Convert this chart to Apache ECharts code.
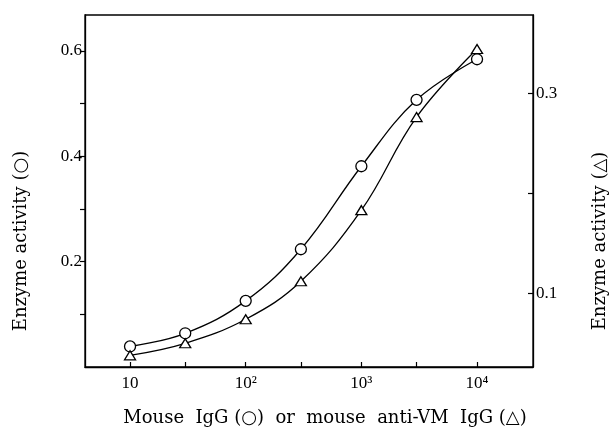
<!DOCTYPE html>
<html>
<head>
<meta charset="utf-8">
<script src="https://cdn.jsdelivr.net/npm/echarts@6/dist/echarts.min.js"></script>
<style>html,body{margin:0;padding:0;background:#fff}#c{width:611px;height:432px}</style>
</head>
<body>
<div id="c"></div>
<script>
// Concentrations (x, log scale)
const doses = [10, 30, 100, 300, 1000, 3000, 10000];
// Enzyme activity, mouse IgG (circles, left axis)
const igg = [0.039, 0.064, 0.1255, 0.2235, 0.381, 0.507, 0.584];
// Enzyme activity, mouse anti-VM IgG (triangles, right axis)
const antiVM = [0.038, 0.050, 0.074, 0.112, 0.183, 0.276, 0.344];
// Tick values and labels
const xTickValues = [10, 30, 100, 300, 1000, 3000, 10000];
const xLabelValues = [10, 100, 1000, 10000];
const xLabelTexts = ['10', '10²', '10³', '10⁴'];
const leftTickValues = [0.1, 0.2, 0.3, 0.4, 0.5, 0.6];
const leftLabelValues = [0.2, 0.4, 0.6];
const rightTickValues = [0.1, 0.2, 0.3];
const rightLabelValues = [0.1, 0.3];

const serif = 'Liberation Serif';
const titleFont = 'DejaVu Serif';
const chart = echarts.init(document.getElementById('c'), null, {renderer: 'canvas'});
const lineBlack = {show: true, lineStyle: {color: '#000', width: 1.3}};
chart.setOption({
  animation: false,
  backgroundColor: '#fff',
  grid: {left: 85, right: 78, top: 15, bottom: 65, show: true, borderColor: '#000', borderWidth: 1.3,
    containLabel: false, outerBoundsMode: 'none'},
  xAxis: {
    type: 'log', logBase: 10, min: 4.08, max: 30470,
    axisLine: lineBlack, splitLine: {show: false},
    axisTick: {show: true, inside: true, length: 5, customValues: xTickValues, lineStyle: {color: '#000', width: 1.2}},
    minorTick: {show: false},
    axisLabel: {color: '#000', fontFamily: serif, fontSize: 17, margin: 8, customValues: xLabelValues,
      formatter: v => xLabelTexts[xLabelValues.indexOf(Math.round(v))] || ''},
    name: 'Mouse  IgG (○)  or  mouse  anti-VM  IgG (△)',
    nameLocation: 'middle', nameGap: 42,
    nameTextStyle: {color: '#000', fontFamily: titleFont, fontSize: 18, padding: [0, 0, 0, 32]}
  },
  yAxis: [{
    type: 'value', min: 0, max: 0.668, position: 'left',
    axisLine: lineBlack, splitLine: {show: false},
    axisTick: {show: true, length: 5, customValues: leftTickValues, lineStyle: {color: '#000', width: 1.2}},
    axisLabel: {color: '#000', fontFamily: serif, fontSize: 17, margin: 3, customValues: leftLabelValues,
      formatter: v => v.toFixed(1)},
    name: 'Enzyme activity (○)', nameLocation: 'middle', nameGap: 55, nameRotate: 90,
    nameTextStyle: {color: '#000', fontFamily: titleFont, fontSize: 18, padding: [0, 100, 0, 0]}
  }, {
    type: 'value', min: 0.0263, max: 0.378, position: 'right',
    axisLine: lineBlack, splitLine: {show: false},
    axisTick: {show: true, inside: true, length: 5, customValues: rightTickValues, lineStyle: {color: '#000', width: 1.2}},
    axisLabel: {color: '#000', fontFamily: serif, fontSize: 17, margin: 3, customValues: rightLabelValues,
      formatter: v => v.toFixed(1)},
    name: 'Enzyme activity (△)', nameLocation: 'middle', nameGap: 58, nameRotate: 90,
    nameTextStyle: {color: '#000', fontFamily: titleFont, fontSize: 18, padding: [0, 100, 0, 0]}
  }],
  series: [{
    type: 'line', yAxisIndex: 0, smooth: 0.4,
    data: doses.map((d, i) => [d, igg[i]]),
    symbol: 'circle', symbolSize: 11,
    lineStyle: {color: '#000', width: 1.3},
    itemStyle: {color: '#fff', borderColor: '#000', borderWidth: 1.3},
    z: 3
  }, {
    type: 'line', yAxisIndex: 1, smooth: 0.4,
    data: doses.map((d, i) => [d, antiVM[i]]),
    symbol: 'triangle', symbolSize: [11, 9],
    lineStyle: {color: '#000', width: 1.3},
    itemStyle: {color: '#fff', borderColor: '#000', borderWidth: 1.3},
    z: 3
  }]
});
</script>
</body>
</html>
